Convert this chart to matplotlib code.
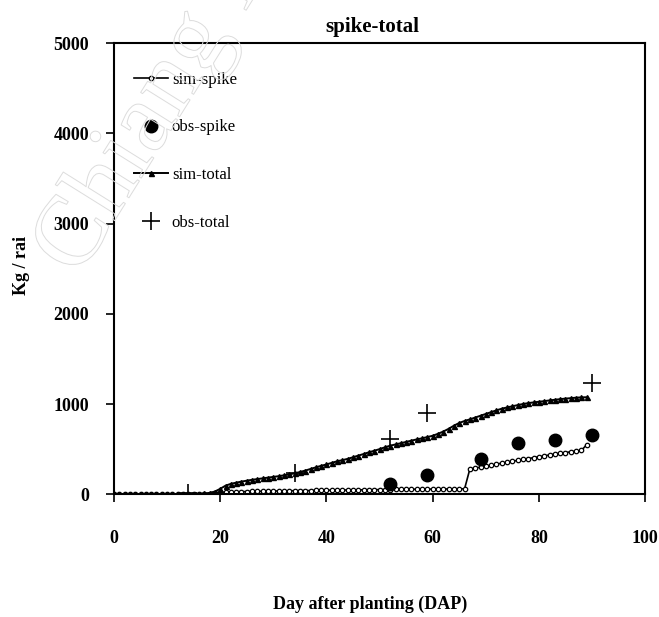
import numpy as np
import matplotlib
matplotlib.use("Agg")
import matplotlib.pyplot as plt
import matplotlib.patheffects as pe

plt.rcParams.update({"font.family": "Liberation Serif", "font.size": 13})

# daily simulation output, day 0 .. 89 (kg / rai)
days = np.arange(90)
sim_total = [0, 0, 0, 0, 0, 0, 0, 0, 0, 0,
             0, 0, 2, 3, 4, 5, 6, 8, 15, 30,
             60, 95, 115, 128, 140, 150, 160, 168, 176, 184,
             192, 200, 210, 220, 232, 246, 262, 280, 298, 315,
             330, 348, 365, 378, 392, 410, 428, 446, 465, 482,
             500, 520, 538, 552, 566, 580, 594, 608, 620, 634,
             648, 670, 695, 725, 760, 790, 812, 830, 850, 870,
             890, 910, 930, 948, 962, 975, 988, 1000, 1010, 1018,
             1025, 1032, 1040, 1047, 1054, 1060, 1065, 1070, 1074, 1075]
sim_spike = [0, 0, 0, 0, 0, 0, 0, 0, 0, 0,
             0, 0, 0, 0, 2, 3, 4, 5, 6, 10,
             15, 22, 25, 27, 28, 30, 31, 32, 33, 34,
             35, 36, 37, 38, 39, 40, 40, 41, 42, 43,
             44, 45, 45, 46, 47, 48, 48, 49, 50, 50,
             51, 52, 52, 53, 53, 54, 55, 55, 56, 56,
             57, 57, 58, 58, 59, 60, 60, 280, 290, 300,
             310, 320, 332, 345, 355, 365, 375, 385, 395, 405,
             415, 425, 435, 445, 455, 462, 470, 478, 485, 550]

# field observations
obs_total_day = [14, 34, 52, 59, 90]
obs_total = [10, 240, 610, 905, 1230]
obs_spike_day = [52, 59, 69, 76, 83, 90]
obs_spike = [115, 215, 385, 570, 605, 655]

fig = plt.figure(figsize=(6.59, 6.17), dpi=100)
ax = fig.add_axes([0.173, 0.199, 0.806, 0.731])

ax.plot(days, sim_spike, "-o", color="black", lw=1.2, ms=3.2,
        mfc="white", mec="black", mew=0.9, label="sim-spike")
ax.plot(obs_spike_day, obs_spike, "o", color="black", ms=9, ls="none",
        label="obs-spike")
ax.plot(days, sim_total, "-^", color="black", lw=1.4, ms=3.6,
        label="sim-total")
ax.plot(obs_total_day, obs_total, "+", color="black", ms=13, mew=1.2,
        ls="none", label="obs-total")

ax.set_xlim(0, 100)
ax.set_ylim(0, 5000)
ax.set_xticks([0, 20, 40, 60, 80, 100])
ax.set_yticks([0, 1000, 2000, 3000, 4000, 5000])
ax.tick_params(axis="x", direction="out", length=6, width=1.2, pad=20)
ax.tick_params(axis="y", direction="out", length=6, width=1.2, pad=12)
for lbl in ax.get_xticklabels() + ax.get_yticklabels():
    lbl.set_fontweight("bold")
for sp in ax.spines.values():
    sp.set_linewidth(1.5)

ax.set_title("spike-total", fontsize=15, fontweight="bold", pad=8, x=0.486)
fig.text(0.032, 0.570, "Kg / rai", fontsize=13, fontweight="bold",
         rotation=90, ha="center", va="center")
fig.text(0.562, 0.021, "Day after planting (DAP)", fontsize=13,
         fontweight="bold", ha="center", va="center")

ax.legend(loc="upper left", bbox_to_anchor=(0.01, 0.97), frameon=False,
          fontsize=12, labelspacing=1.9, handlelength=2.0,
          handletextpad=0.25)

# library watermark, outline only
fig.text(0.03, 0.53, "Chiang Mai", fontsize=72, rotation=58,
         color="none", ha="left", va="bottom", zorder=5,
         path_effects=[pe.Stroke(linewidth=0.7, foreground="#dcdcdc")])

fig.savefig("out.png", dpi=100)
